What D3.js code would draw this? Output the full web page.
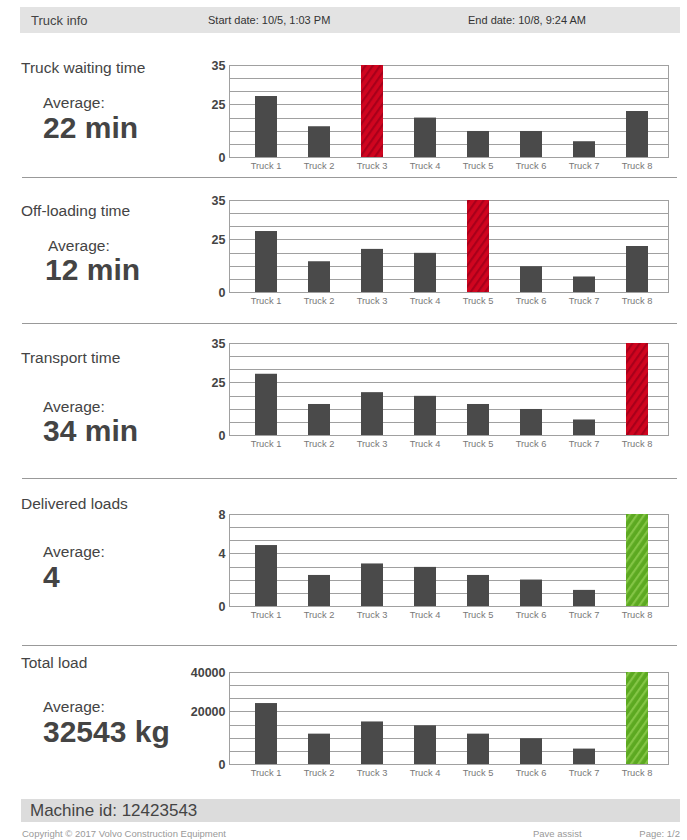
<!DOCTYPE html>
<html>
<head>
<meta charset="utf-8">
<script src="https://cdn.jsdelivr.net/npm/d3@7"></script>
<style>
  html, body { margin: 0; padding: 0; background: #fff; }
  svg { display: block; font-family: "Liberation Sans", Arial, sans-serif; }
</style>
</head>
<body>
<svg id="chart" width="687" height="840"></svg>
<script>
// ---------- data ----------
const trucks = ["Truck 1", "Truck 2", "Truck 3", "Truck 4", "Truck 5", "Truck 6", "Truck 7", "Truck 8"];

const panelTitles = ["Truck waiting time", "Off-loading time", "Transport time", "Delivered loads", "Total load"];
const panelAverages = ["22 min", "12 min", "34 min", "4", "32543 kg"];

const waitingTime   = [23.2, 11.7, 35, 15.0, 9.9, 9.9, 6.0, 17.5];
const offloadTime   = [23.2, 11.7, 16.4, 14.9, 35, 9.8, 5.9, 17.5];
const transportTime = [23.3, 11.8, 16.3, 14.9, 11.8, 9.9, 5.9, 35];
const deliveredLoads = [5.3, 2.7, 3.7, 3.4, 2.7, 2.3, 1.4, 8];
const totalLoad     = [26500, 13200, 18500, 16800, 13200, 11200, 6700, 40000];

const timeTicks   = ["0", "25", "35"];
const loadsTicks  = ["0", "4", "8"];
const weightTicks = ["0", "20000", "40000"];

const axisMax = [35, 35, 35, 8, 40000];
const highlightTruck = ["Truck 3", "Truck 5", "Truck 8", "Truck 8", "Truck 8"];
const highlightKind = ["bad", "bad", "bad", "good", "good"];

const headerTexts = ["Truck info", "Start date: 10/5, 1:03 PM", "End date: 10/8, 9:24 AM"];
const machineId = "Machine id: 12423543";
const footerTexts = ["Copyright \u00A9 2017 Volvo Construction Equipment", "Pave assist", "Page: 1/2"];

const seriesList = [waitingTime, offloadTime, transportTime, deliveredLoads, totalLoad];
const tickList = [timeTicks, timeTicks, timeTicks, loadsTicks, weightTicks];

// ---------- layout ----------
const layout = [
  { top: 65,  title: 73,  avgX: 43, avgY: 108, valX: 43, valY: 138, sep: 177 },
  { top: 200, title: 216, avgX: 48, avgY: 251, valX: 45, valY: 280, sep: 323 },
  { top: 343, title: 363, avgX: 43, avgY: 412, valX: 43, valY: 441, sep: 478 },
  { top: 514, title: 509, avgX: 43, avgY: 557, valX: 43, valY: 587, sep: 645 },
  { top: 672, title: 668, avgX: 43, avgY: 712, valX: 43, valY: 742, sep: null }
];
const plotH = 92;
const plotL = 229.5, plotR = 668.5;
const textDark = "#444";

const svg = d3.select("#chart");

// patterns
const defs = svg.append("defs");
function stripe(id, base, line) {
  const p = defs.append("pattern").attr("id", id).attr("patternUnits", "userSpaceOnUse")
    .attr("width", 6).attr("height", 6).attr("patternTransform", "rotate(35)");
  p.append("rect").attr("width", 6).attr("height", 6).attr("fill", base);
  p.append("rect").attr("x", 0).attr("width", 2.2).attr("height", 6).attr("fill", line);
}
stripe("stripeBad", "#d0051f", "#a8001a");
stripe("stripeGood", "#5ca921", "#84c546");

// header bar
svg.append("rect").attr("x", 20).attr("y", 7).attr("width", 660).attr("height", 26).attr("fill", "#e3e3e3");
svg.append("text").attr("x", 31).attr("y", 25).attr("font-size", 13).attr("fill", textDark).text(headerTexts[0]);
svg.append("text").attr("x", 208).attr("y", 24).attr("font-size", 11).attr("fill", "#333").text(headerTexts[1]);
svg.append("text").attr("x", 468).attr("y", 24).attr("font-size", 11).attr("fill", "#333").text(headerTexts[2]);

const x = d3.scaleBand().domain(trucks).range([239.5, 663.5]).paddingInner(0.585).paddingOuter(0.2925);

panelTitles.forEach((title, k) => {
  const L = layout[k];
  const g = svg.append("g");
  const max = axisMax[k];
  const y = d3.scaleLinear().domain([0, max]).range([L.top + plotH, L.top]);

  // left texts
  g.append("text").attr("x", 21).attr("y", L.title).attr("font-size", 15.5).attr("fill", textDark).text(title);
  g.append("text").attr("x", L.avgX).attr("y", L.avgY).attr("font-size", 15.5).attr("fill", textDark).text("Average:");
  g.append("text").attr("x", L.valX).attr("y", L.valY).attr("font-size", 30).attr("font-weight", "bold")
    .attr("fill", textDark).text(panelAverages[k]);

  // grid lines
  const gridVals = d3.range(8).map(i => max * i / 7);
  g.selectAll("line.grid").data(gridVals).join("line")
    .attr("x1", plotL).attr("x2", plotR)
    .attr("y1", d => Math.round(y(d)) + 0.5).attr("y2", d => Math.round(y(d)) + 0.5)
    .attr("stroke", "#a0a0a0").attr("stroke-width", 1);
  // plot frame
  g.append("rect").attr("x", plotL).attr("y", Math.round(y(max)) + 0.5)
    .attr("width", plotR - plotL).attr("height", Math.round(y(0)) - Math.round(y(max)))
    .attr("fill", "none").attr("stroke", "#a0a0a0");

  // bars
  const vals = seriesList[k];
  g.selectAll("rect.bar").data(trucks).join("rect")
    .attr("x", d => x(d)).attr("width", x.bandwidth())
    .attr("y", (d, i) => y(vals[i])).attr("height", (d, i) => y(0) - y(vals[i]))
    .attr("fill", d => d === highlightTruck[k]
      ? (highlightKind[k] === "bad" ? "url(#stripeBad)" : "url(#stripeGood)")
      : "#4a4a4a");

  // y axis
  const labels = tickList[k];
  const yAxis = d3.axisLeft(y).tickValues([0, max * 4 / 7, max])
    .tickFormat((d, i) => labels[i]).tickSize(0).tickPadding(4);
  const ya = g.append("g").attr("transform", `translate(${plotL},0)`).call(yAxis);
  ya.select(".domain").remove();
  ya.selectAll("text").attr("font-size", 12.5).attr("font-weight", "bold").attr("fill", textDark)
    .attr("font-family", "'Liberation Sans', Arial, sans-serif");

  // x axis
  const xAxis = d3.axisBottom(x).tickSize(0).tickPadding(5);
  const xa = g.append("g").attr("transform", `translate(0,${Math.round(y(0)) + 0.5})`).call(xAxis);
  xa.select(".domain").remove();
  xa.selectAll("text").attr("font-size", 9.3).attr("fill", "#777")
    .attr("font-family", "'Liberation Sans', Arial, sans-serif");

  // separator
  if (L.sep !== null) {
    svg.append("line").attr("x1", 22).attr("x2", 677).attr("y1", L.sep + 0.5).attr("y2", L.sep + 0.5)
      .attr("stroke", "#999").attr("stroke-width", 1);
  }
});

// footer
svg.append("rect").attr("x", 21).attr("y", 799).attr("width", 659).attr("height", 23).attr("fill", "#dcdcdc");
svg.append("text").attr("x", 30).attr("y", 816).attr("font-size", 17).attr("fill", textDark).text(machineId);
svg.append("text").attr("x", 22).attr("y", 837).attr("font-size", 9.5).attr("fill", "#999").text(footerTexts[0]);
svg.append("text").attr("x", 533).attr("y", 837).attr("font-size", 9.5).attr("fill", "#999").text(footerTexts[1]);
svg.append("text").attr("x", 680).attr("y", 837).attr("text-anchor", "end").attr("font-size", 9.5).attr("fill", "#999").text(footerTexts[2]);
</script>
</body>
</html>
